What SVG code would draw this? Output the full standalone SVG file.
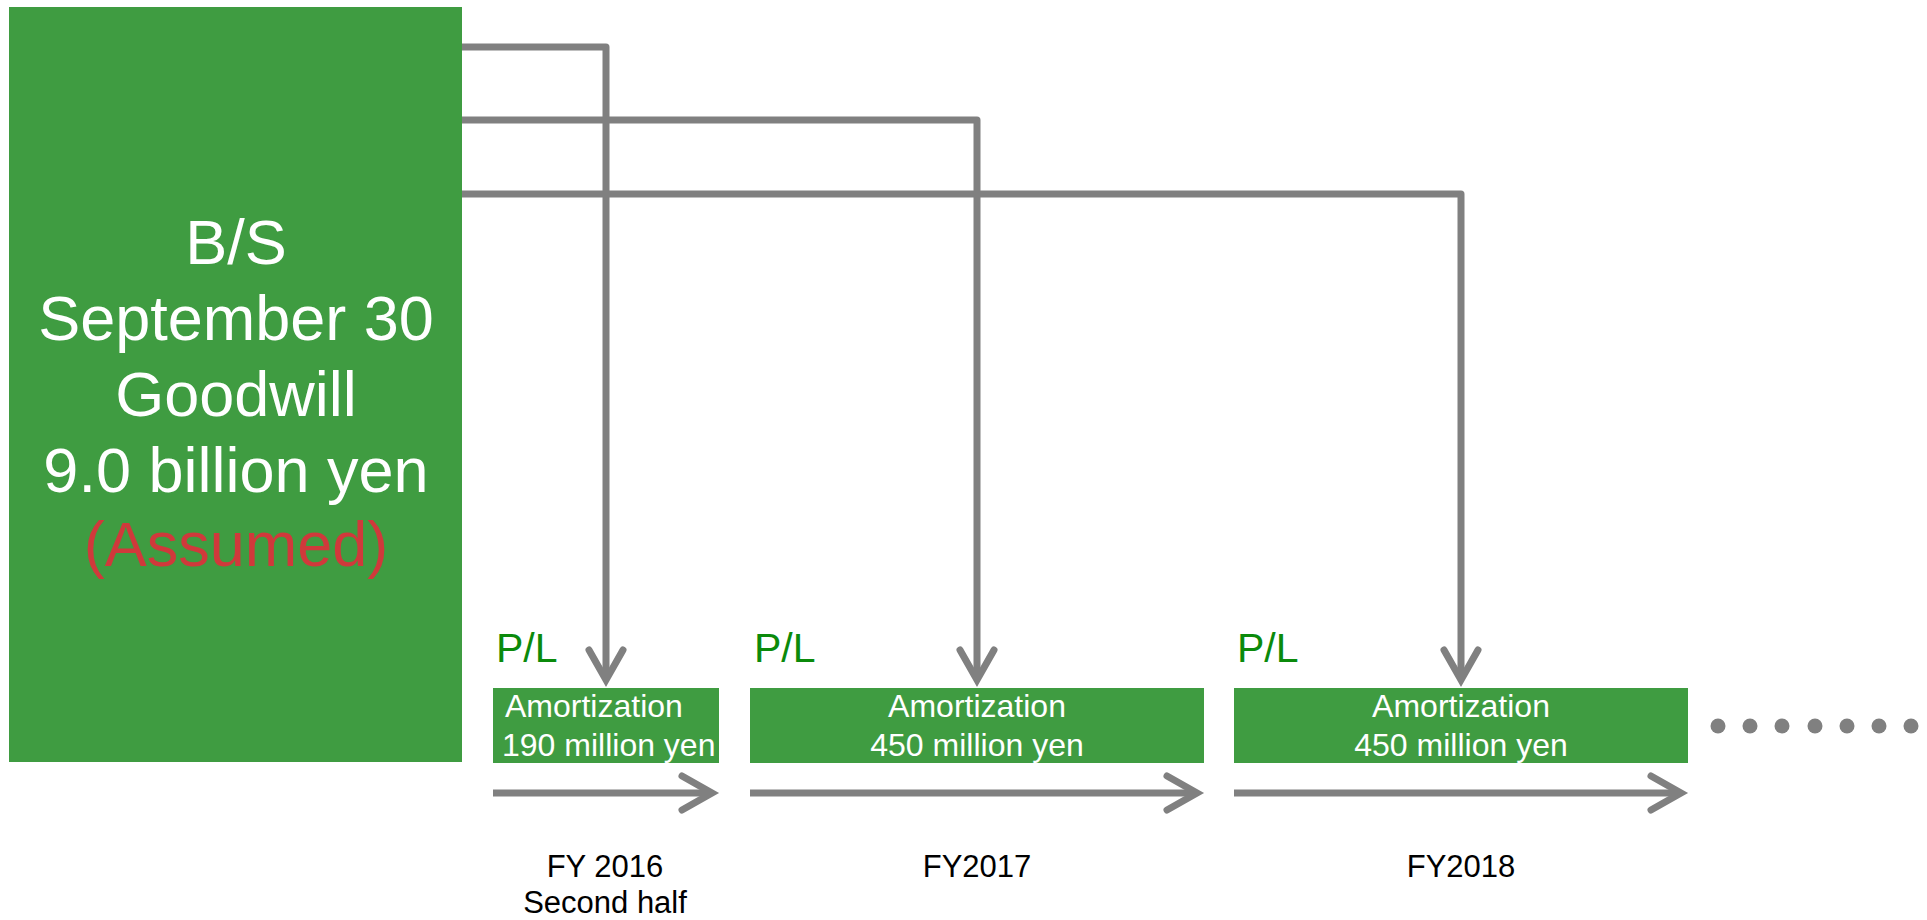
<svg xmlns="http://www.w3.org/2000/svg" width="1927" height="920" viewBox="0 0 1927 920">
  <style>
    text { font-family: "Liberation Sans", Arial, sans-serif; }
    .box { fill: #3f9c41; }
    .big { font-size: 63px; fill: #ffffff; text-anchor: middle; }
    .red { fill: #d0393b; }
    .pl { font-size: 41px; fill: #0b8a0b; }
    .amt { font-size: 32px; fill: #ffffff; }
    .mid { text-anchor: middle; }
    .fy { font-size: 31px; fill: #000000; text-anchor: middle; }
    .wire { fill: none; stroke: #808080; stroke-width: 7; stroke-linejoin: round; marker-end: url(#chev); }
    .dot { fill: #808080; }
  </style>
  <defs>
    <marker id="chev" markerUnits="userSpaceOnUse" markerWidth="60" markerHeight="60" viewBox="-45 -30 60 60" refX="0" refY="0" orient="auto" overflow="visible">
      <path d="M-30,-17 L0,0 L-30,17" fill="none" stroke="#808080" stroke-width="7" stroke-linecap="round" stroke-linejoin="miter"/>
    </marker>
  </defs>

  <rect width="1927" height="920" fill="#ffffff"/>

  <!-- balance sheet goodwill -->
  <g id="bs">
    <rect class="box" x="9" y="7" width="453" height="755"/>
    <text class="big" x="236" y="264">B/S</text>
    <text class="big" x="236" y="340">September 30</text>
    <text class="big" x="236" y="416">Goodwill</text>
    <text class="big" x="236" y="492">9.0 billion yen</text>
    <text class="big red" x="236" y="566">(Assumed)</text>
  </g>

  <!-- P/L amortization per period -->
  <g id="pl2016">
    <text class="pl" x="496" y="662">P/L</text>
    <rect class="box" x="493" y="688" width="226" height="75"/>
    <text class="amt" x="505" y="717">Amortization</text>
    <text class="amt" x="502" y="756">190 million yen</text>
  </g>
  <g id="pl2017">
    <text class="pl" x="754" y="662">P/L</text>
    <rect class="box" x="750" y="688" width="454" height="75"/>
    <text class="amt mid" x="977" y="717">Amortization</text>
    <text class="amt mid" x="977" y="756">450 million yen</text>
  </g>
  <g id="pl2018">
    <text class="pl" x="1237" y="662">P/L</text>
    <rect class="box" x="1234" y="688" width="454" height="75"/>
    <text class="amt mid" x="1461" y="717">Amortization</text>
    <text class="amt mid" x="1461" y="756">450 million yen</text>
  </g>

  <!-- continuation -->
  <g id="more">
    <circle class="dot" cx="1718" cy="726" r="7.5"/>
    <circle class="dot" cx="1750" cy="726" r="7.5"/>
    <circle class="dot" cx="1782" cy="726" r="7.5"/>
    <circle class="dot" cx="1815" cy="726" r="7.5"/>
    <circle class="dot" cx="1847" cy="726" r="7.5"/>
    <circle class="dot" cx="1879" cy="726" r="7.5"/>
    <circle class="dot" cx="1911" cy="726" r="7.5"/>
  </g>

  <!-- fiscal period labels -->
  <g id="periods">
    <text class="fy" x="605" y="877">FY 2016</text>
    <text class="fy" x="605" y="913">Second half</text>
    <text class="fy" x="977" y="877">FY2017</text>
    <text class="fy" x="1461" y="877">FY2018</text>
  </g>

  <!-- connectors -->
  <g id="connectors">
    <path class="wire" d="M462,47 H606 V680"/>
    <path class="wire" d="M462,120 H977 V680"/>
    <path class="wire" d="M462,194 H1461 V680"/>
    <path class="wire" d="M493,793 H712"/>
    <path class="wire" d="M750,793 H1197"/>
    <path class="wire" d="M1234,793 H1681"/>
  </g>
</svg>
